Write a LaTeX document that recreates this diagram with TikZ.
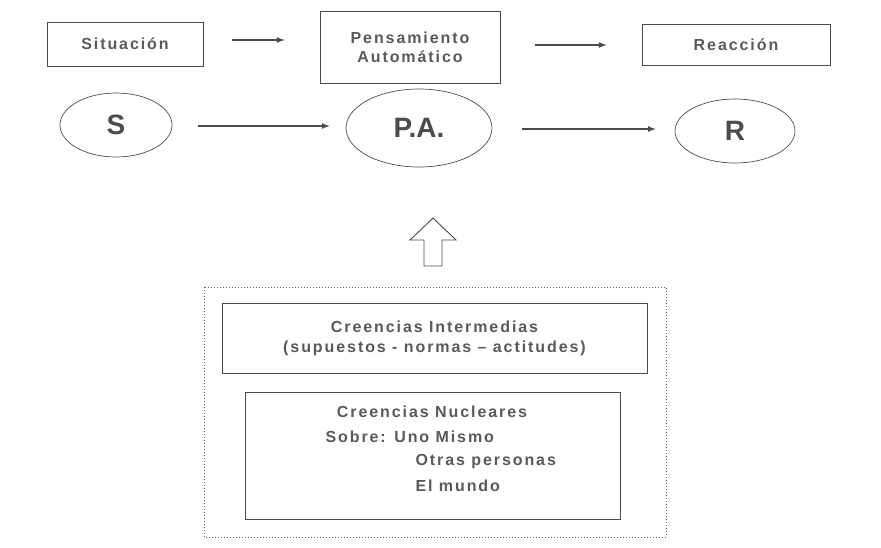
\documentclass[tikz,border=0pt]{standalone}
\usepackage{fontspec}
\usetikzlibrary{shapes.geometric}
\setmainfont{Liberation Sans}[LetterSpace=12]
\newfontfamily\bigf{Liberation Sans}
\begin{document}
\begin{tikzpicture}[x=1pt,y=-1pt,
  txt/.style={text=black!65,font=\bfseries\fontsize{16}{20}\selectfont},
  bx/.style={draw=black!70,line width=0.9pt,txt},
  el/.style={draw=black!70,ellipse,inner sep=0pt,line width=0.7pt,text=black!70,font=\bigf\bfseries\fontsize{28}{30}\selectfont},
  arr/.style={draw=black!70,line width=1.6pt,-latex}]
\useasboundingbox (0,0) rectangle (881,547);
\node[bx,minimum width=156,minimum height=44] (sit) at (125,44) {Situación};
\node[bx,minimum width=180,minimum height=72,align=center] (pen) at (410,47) {Pensamiento\\[-1pt]Automático};
\node[bx,minimum width=188,minimum height=41] (rea) at (736,45) {Reacción};
\node[el,minimum width=112,minimum height=64] (s) at (116,125) {S};
\node[el,minimum width=146,minimum height=78] (pa) at (419,128) {P.A.};
\node[el,minimum width=120,minimum height=64] (r) at (735,131) {R};
\draw[arr] ([xshift=29,yshift=4]sit.east) -- ([xshift=-35,yshift=4]pen.west|-sit.east);
\draw[arr] ([xshift=35,yshift=2]pen.east) -- ([xshift=-35,yshift=2]rea.west|-pen.east);
\draw[arr] ([xshift=26,yshift=-1]s.east) -- ([xshift=-16,yshift=-1]pa.west|-s.east);
\draw[arr] ([xshift=30,yshift=-1]pa.east) -- ([xshift=-19,yshift=-1]r.west|-pa.east);
\draw[black!70,line width=0.9pt] (424,266) -- (424,240) -- (410,240) -- (433,218) -- (456,240) -- (442,240) -- (442,266) -- cycle;
\draw[black!60,line width=1pt,dotted] (204,287) rectangle (666,537);
\node[bx,minimum width=425,minimum height=70,align=center] (ci) at (434.5,338) {Creencias Intermedias\\(supuestos - normas – actitudes)};
\draw[black!70,line width=0.9pt] (245,392) rectangle (620,519);
\node[txt] (cn) at (432,412) {Creencias Nucleares};
\node[txt,anchor=west] (sb) at (322,437) {Sobre: Uno Mismo};
\node[txt,anchor=west] (op) at (412,462) {Otras personas};
\node[txt,anchor=west] (em) at (412,486) {El mundo};
\end{tikzpicture}
\end{document}
